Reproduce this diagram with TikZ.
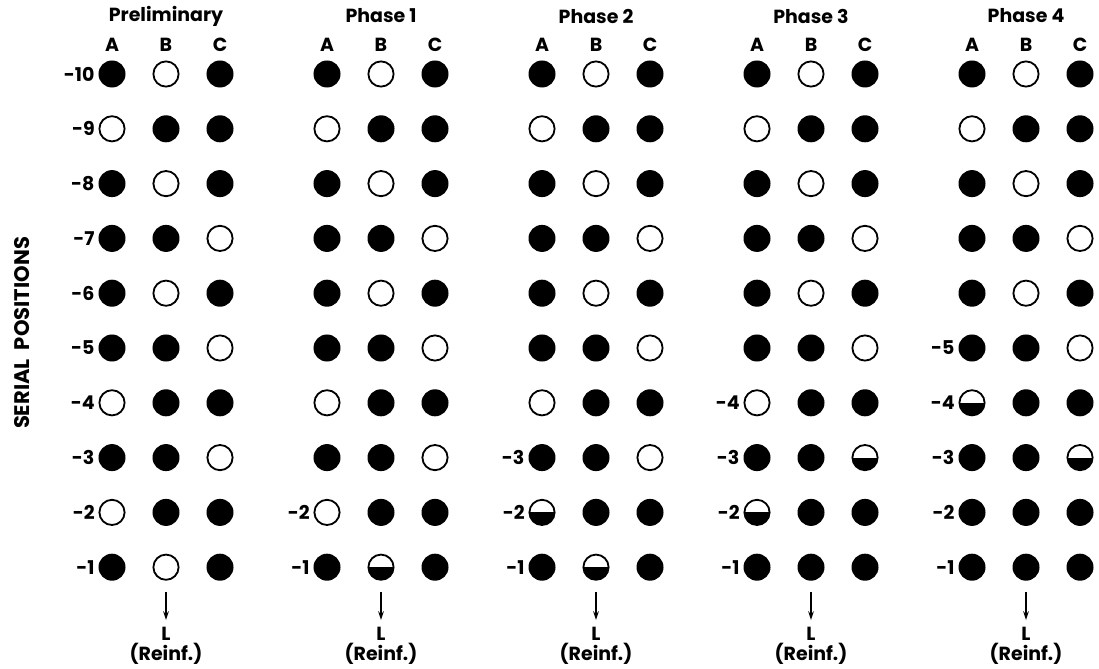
\documentclass[tikz,border=0pt]{standalone}
\usepackage{fontspec}
\setmainfont{Poppins}
\usetikzlibrary{arrows.meta,positioning}
\tikzset{
  dot/.style={circle, inner sep=0pt, minimum size=0.675cm},
  F/.style={dot, fill=black},
  O/.style={dot, draw=black, line width=1.3pt, minimum size=0.63cm},
  H/.style={O, path picture={\fill[black] (path picture bounding box.south west) rectangle (path picture bounding box.east);}},
  lab/.style={font=\bfseries\fontsize{13.5}{15}\selectfont, inner sep=0pt},
  arr/.style={-{Stealth[length=2.2mm,width=1.4mm]}, line width=0.9pt, shorten <=8pt, shorten >=5pt}
}
% one panel: #1 index, #2 x of column A, #3 title, #4 highest labelled row, #5 rows -10..-1
\newcommand\drawpanel[5]{%
  \node[lab] (p#1-t) at (#2+54,16) {#3};
  \node[lab] (p#1-hA) at (#2,45) {A};
  \node[lab] (p#1-hB) at (#2+54,45) {B};
  \node[lab] (p#1-hC) at (#2+108,45) {C};
  \foreach \ca/\cb/\cc [count=\r] in {#5} {
    \pgfmathtruncatemacro\n{11-\r}
    \pgfmathsetmacro\yy{74+(\r-1)*54.8}
    \node[\ca] (p#1-A-\n) at (#2,\yy) {};
    \node[\cb] (p#1-B-\n) at (#2+54,\yy) {};
    \node[\cc] (p#1-C-\n) at (#2+108,\yy) {};
    \ifnum\n>#4\else
      \node[lab, left=2.5pt of p#1-A-\n] (p#1-n\n) {-\n};
    \fi
  }
  \node[lab] (p#1-L) at (#2+54,634) {L};
  \node[lab] (p#1-R) at (#2+54,654) {(Reinf.)};
  \draw[arr] (p#1-B-1) -- (p#1-L);
}
\begin{document}
\begin{tikzpicture}[x=0.025cm, y=-0.025cm]
\useasboundingbox (0,0) rectangle (1099,669);

\node[lab, rotate=90, font=\bfseries\fontsize{15}{17}\selectfont] (axis) at (22,333) {SERIAL\ \ POSITIONS};

\drawpanel{0}{112}{Preliminary}{10}{F/O/F, O/F/F, F/O/F, F/F/O, F/O/F, F/F/O, O/F/F, F/F/O, O/F/F, F/O/F}
\drawpanel{1}{327}{Phase 1}{2}{F/O/F, O/F/F, F/O/F, F/F/O, F/O/F, F/F/O, O/F/F, F/F/O, O/F/F, F/H/F}
\drawpanel{2}{542}{Phase 2}{3}{F/O/F, O/F/F, F/O/F, F/F/O, F/O/F, F/F/O, O/F/F, F/F/O, H/F/F, F/H/F}
\drawpanel{3}{757}{Phase 3}{4}{F/O/F, O/F/F, F/O/F, F/F/O, F/O/F, F/F/O, O/F/F, F/F/H, H/F/F, F/F/F}
\drawpanel{4}{972}{Phase 4}{5}{F/O/F, O/F/F, F/O/F, F/F/O, F/O/F, F/F/O, H/F/F, F/F/H, F/F/F, F/F/F}
\end{tikzpicture}
\end{document}
